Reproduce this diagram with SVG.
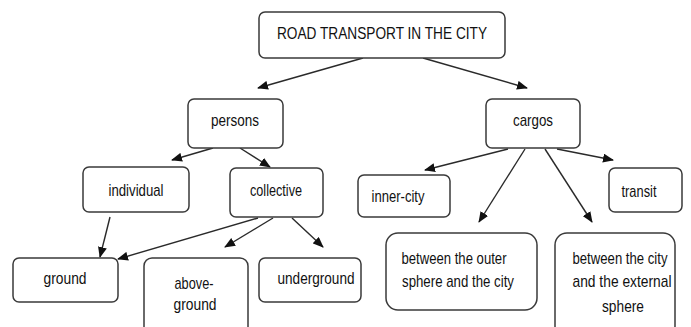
<svg xmlns="http://www.w3.org/2000/svg" width="691" height="327" viewBox="0 0 691 327">
<style>
.box{fill:#fff;stroke:#3a3a3a;stroke-width:1.5}
.t{font-family:"Liberation Sans Narrow","Liberation Sans",Arial,sans-serif;font-size:17px;fill:#111;text-anchor:middle}
.c{fill:none;stroke:#2a2a2a;stroke-width:1.4}
</style>
<defs>
<marker id="ah" markerUnits="userSpaceOnUse" markerWidth="11" markerHeight="9" refX="10" refY="4.5" orient="auto">
<path d="M0,0 L11,4.5 L0,9 z" fill="#111"/>
</marker>
</defs>
<rect width="691" height="327" fill="#fff"/>
<g id="connectors">
<line class="c" x1="363" y1="58" x2="258" y2="88" marker-end="url(#ah)"/>
<line class="c" x1="423" y1="58" x2="527" y2="88" marker-end="url(#ah)"/>
<line class="c" x1="213" y1="148" x2="172" y2="160" marker-end="url(#ah)"/>
<line class="c" x1="240" y1="148" x2="270" y2="167" marker-end="url(#ah)"/>
<line class="c" x1="110" y1="217" x2="100" y2="257" marker-end="url(#ah)"/>
<line class="c" x1="258" y1="218" x2="118" y2="259" marker-end="url(#ah)"/>
<line class="c" x1="273" y1="218" x2="225" y2="247" marker-end="url(#ah)"/>
<line class="c" x1="292" y1="218" x2="323" y2="247" marker-end="url(#ah)"/>
<line class="c" x1="508" y1="149" x2="425" y2="170" marker-end="url(#ah)"/>
<line class="c" x1="557" y1="149" x2="613" y2="160" marker-end="url(#ah)"/>
<line class="c" x1="525" y1="149" x2="479" y2="222" marker-end="url(#ah)"/>
<line class="c" x1="545" y1="149" x2="592" y2="222" marker-end="url(#ah)"/>
</g>
<g id="root">
<rect class="box" x="259" y="12" width="246" height="46" rx="6"/>
<text class="t" x="382" y="39" textLength="210" lengthAdjust="spacingAndGlyphs">ROAD TRANSPORT IN THE CITY</text>
</g>
<g id="persons">
<rect class="box" x="188" y="99" width="95" height="49" rx="6"/>
<text class="t" x="235" y="126" textLength="48" lengthAdjust="spacingAndGlyphs">persons</text>
</g>
<g id="cargos">
<rect class="box" x="486" y="99" width="94" height="49" rx="6"/>
<text class="t" x="533" y="126" textLength="40" lengthAdjust="spacingAndGlyphs">cargos</text>
</g>
<g id="individual">
<rect class="box" x="83" y="167" width="106" height="45" rx="6"/>
<text class="t" x="136" y="196" textLength="55" lengthAdjust="spacingAndGlyphs">individual</text>
</g>
<g id="collective">
<rect class="box" x="230" y="168" width="93" height="49" rx="6"/>
<text class="t" x="276" y="196" textLength="52" lengthAdjust="spacingAndGlyphs">collective</text>
</g>
<g id="inner-city">
<rect class="box" x="358" y="175" width="92" height="42" rx="6"/>
<text class="t" x="398" y="202" textLength="53" lengthAdjust="spacingAndGlyphs">inner-city</text>
</g>
<g id="transit">
<rect class="box" x="609" y="168" width="73" height="44" rx="6"/>
<text class="t" x="639" y="197" textLength="35" lengthAdjust="spacingAndGlyphs">transit</text>
</g>
<g id="ground">
<rect class="box" x="13" y="258" width="105" height="44" rx="6"/>
<text class="t" x="65" y="284" textLength="43" lengthAdjust="spacingAndGlyphs">ground</text>
</g>
<g id="above-ground">
<rect class="box" x="144" y="258" width="104" height="80" rx="8"/>
<text class="t" x="194" y="289" textLength="39" lengthAdjust="spacingAndGlyphs">above-</text>
<text class="t" x="195" y="310" textLength="43" lengthAdjust="spacingAndGlyphs">ground</text>
</g>
<g id="underground">
<rect class="box" x="259" y="258" width="102" height="44" rx="6"/>
<text class="t" x="316" y="284" textLength="77" lengthAdjust="spacingAndGlyphs">underground</text>
</g>
<g id="outer-sphere">
<rect class="box" x="386" y="233" width="151" height="77" rx="12"/>
<text class="t" x="454" y="264" textLength="105" lengthAdjust="spacingAndGlyphs">between the outer</text>
<text class="t" x="458" y="287" textLength="112" lengthAdjust="spacingAndGlyphs">sphere and the city</text>
</g>
<g id="external-sphere">
<rect class="box" x="555" y="233" width="120" height="105" rx="12"/>
<text class="t" x="620" y="264" textLength="95" lengthAdjust="spacingAndGlyphs">between the city</text>
<text class="t" x="622" y="287" textLength="99" lengthAdjust="spacingAndGlyphs">and the external</text>
<text class="t" x="623" y="312" textLength="42" lengthAdjust="spacingAndGlyphs">sphere</text>
</g>
</svg>
